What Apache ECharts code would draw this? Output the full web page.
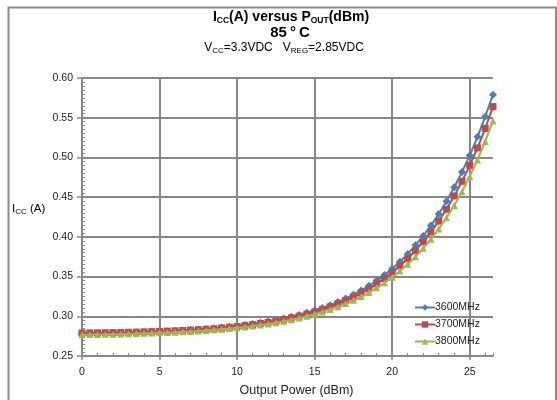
<!DOCTYPE html>
<html><head><meta charset="utf-8">
<script src="https://cdn.jsdelivr.net/npm/echarts@6/dist/echarts.min.js"></script>
<style>html,body{margin:0;padding:0;background:#fff}#c{width:557px;height:400px}</style>
</head><body><div id="c"></div>
<script>
// Output power (dBm), step 0.5
var powers = [0,0.5,1,1.5,2,2.5,3,3.5,4,4.5,5,5.5,6,6.5,7,7.5,8,8.5,9,9.5,10,10.5,11,11.5,12,12.5,13,13.5,14,14.5,15,15.5,16,16.5,17,17.5,18,18.5,19,19.5,20,20.5,21,21.5,22,22.5,23,23.5,24,24.5,25,25.5,26,26.5];
var seriesNames = ['3600MHz','3700MHz','3800MHz'];
var icc3600 = [0.2780,0.2782,0.2784,0.2786,0.2788,0.2790,0.2793,0.2796,0.2799,0.2803,0.2807,0.2811,0.2816,0.2821,0.2827,0.2834,0.2841,0.2849,0.2858,0.2867,0.2878,0.2890,0.2903,0.2918,0.2934,0.2951,0.2971,0.2993,0.3017,0.3043,0.3072,0.3105,0.3140,0.3180,0.3223,0.3272,0.3325,0.3384,0.3449,0.3521,0.3600,0.3688,0.3785,0.3893,0.4011,0.4142,0.4287,0.4447,0.4624,0.4815,0.5025,0.5260,0.5515,0.5790];
var icc3700 = [0.2790,0.2791,0.2792,0.2793,0.2795,0.2797,0.2799,0.2801,0.2804,0.2807,0.2810,0.2813,0.2817,0.2821,0.2826,0.2831,0.2837,0.2844,0.2852,0.2861,0.2871,0.2883,0.2895,0.2909,0.2924,0.2940,0.2959,0.2979,0.3002,0.3027,0.3054,0.3085,0.3118,0.3155,0.3197,0.3242,0.3292,0.3347,0.3409,0.3476,0.3551,0.3634,0.3725,0.3826,0.3938,0.4061,0.4198,0.4348,0.4515,0.4699,0.4900,0.5120,0.5365,0.5640];
var icc3800 = [0.2769,0.2770,0.2772,0.2773,0.2775,0.2777,0.2780,0.2782,0.2785,0.2788,0.2792,0.2796,0.2800,0.2805,0.2810,0.2816,0.2822,0.2829,0.2837,0.2845,0.2855,0.2865,0.2877,0.2890,0.2904,0.2919,0.2937,0.2956,0.2977,0.3000,0.3026,0.3055,0.3086,0.3121,0.3160,0.3202,0.3249,0.3301,0.3358,0.3422,0.3492,0.3570,0.3655,0.3750,0.3855,0.3970,0.4098,0.4239,0.4395,0.4568,0.4759,0.4969,0.5202,0.5460];
var xTicks = [0,5,10,15,20,25];
var xGridLines = [5,10,15,20,25];

var FONT = '"Liberation Sans", Arial, sans-serif';
var colors = ['#4a7ebb','#be4b48','#98b954'];
var symbols = ['diamond','rect','triangle'];
var symSizes = [8,7,7];
var allData = [icc3600, icc3700, icc3800];

function pairs(arr){ return powers.map(function(p,i){ return [p, arr[i]]; }); }

var chart = echarts.init(document.getElementById('c'), null, {renderer:'canvas'});
var gridColor = '#878787';

var series = seriesNames.map(function(n,i){
  return {
    name:n, type:'line', xAxisIndex:0, yAxisIndex:0,
    data: pairs(allData[i]),
    symbol: symbols[i], symbolSize: symSizes[i], showSymbol:true,
    lineStyle:{color:colors[i], width:2},
    itemStyle:{color:colors[i], borderWidth:0},
    z: 3+i
  };
});
series[0].markLine = {
  silent:true, symbol:['none','none'], z:1,
  label:{show:false},
  lineStyle:{color:gridColor, width:2, type:'solid'},
  data: xGridLines.map(function(v){ return {xAxis:v}; })
};

var option = {
  animation:false,
  backgroundColor:'#fff',
  textStyle:{fontFamily:FONT},
  grid: {left:82, right:64, top:78, bottom:44, containLabel:false, outerBoundsMode:'none'},
  legend: {
    data: seriesNames,
    orient:'vertical',
    left: 409, top: 297,
    itemWidth: 20, itemHeight: 8, itemGap: 6,
    textStyle:{fontSize:10.5, color:'#222', fontFamily:FONT, padding:[0,0,0,-5]}
  },
  xAxis: [{
    type:'value', min:0, max:26.5, interval:5, position:'bottom',
    axisLine:{show:true, onZero:false, lineStyle:{color:gridColor, width:2}},
    axisTick:{show:true, inside:false, length:4, customValues: xTicks, lineStyle:{color:gridColor, width:1.5}},
    axisLabel:{color:'#222', fontSize:10.5, fontFamily:FONT, margin:11, customValues: xTicks},
    splitLine:{show:false},
    name:'Output Power (dBm)', nameLocation:'middle', nameGap:28,
    nameTextStyle:{color:'#222', fontSize:12.5, fontFamily:FONT, padding:[0,0,0,18]}
  },{
    type:'value', min:0, max:26.5, interval:1, position:'bottom', gridIndex:0,
    axisLine:{show:false}, axisLabel:{show:false}, splitLine:{show:false},
    axisTick:{show:true, inside:true, length:3, lineStyle:{color:gridColor, width:1}}
  }],
  yAxis: [{
    type:'value', min:0.25, max:0.60, interval:0.05, position:'left',
    axisLine:{show:true, lineStyle:{color:gridColor, width:2}},
    axisTick:{show:true, inside:false, length:5, lineStyle:{color:gridColor, width:1.5}},
    axisLabel:{color:'#222', fontSize:10.5, fontFamily:FONT, margin:9,
      formatter:function(v){ return v.toFixed(2); }},
    splitLine:{show:true, lineStyle:{color:gridColor, width:2}}
  },{
    type:'value', min:0.25, max:0.60, interval:0.005, position:'left', gridIndex:0,
    axisLine:{show:false}, axisLabel:{show:false}, splitLine:{show:false},
    axisTick:{show:true, inside:true, length:3, lineStyle:{color:gridColor, width:1}}
  }],
  series: series,
  graphic: [
    {type:'rect', shape:{x:8.5, y:7.5, width:547.5, height:400}, style:{fill:'none', stroke:'#8c8c8c', lineWidth:2}, silent:true, z:100},
    {type:'text', x:291, y:17, style:{
      text:'{b|I}{bs|CC}{b|(A) versus P}{bs|OUT}{b|(dBm)}',
      align:'center', verticalAlign:'middle',
      rich:{
        b:{fontSize:14, fontWeight:'bold', fontFamily:FONT, fill:'#000', lineHeight:17},
        bs:{fontSize:8.5, fontWeight:'bold', fontFamily:FONT, fill:'#000', padding:[8,0,0,0], lineHeight:17}
      }}},
    {type:'text', x:290, y:33, style:{text:'85\u2009\u00b0\u2009C', align:'center', verticalAlign:'middle',
      font:'bold 15px '+FONT, fill:'#000'}},
    {type:'text', x:284, y:48, style:{
      text:'{n|V}{s|CC}{n|=3.3VDC   V}{s|REG}{n|=2.85VDC}',
      align:'center', verticalAlign:'middle',
      rich:{
        n:{fontSize:12, fontFamily:FONT, fill:'#000', lineHeight:15},
        s:{fontSize:8, fontFamily:FONT, fill:'#000', padding:[6,0,0,0], lineHeight:15}
      }}},
    {type:'text', x:12, y:209, style:{
      text:'{n|I}{s|CC}{n| (A)}',
      verticalAlign:'middle',
      rich:{
        n:{fontSize:11.5, fontFamily:FONT, fill:'#000', lineHeight:14},
        s:{fontSize:8, fontFamily:FONT, fill:'#000', padding:[6,0,0,0], lineHeight:14}
      }}}
  ]
};
chart.setOption(option);
</script>
</body></html>
